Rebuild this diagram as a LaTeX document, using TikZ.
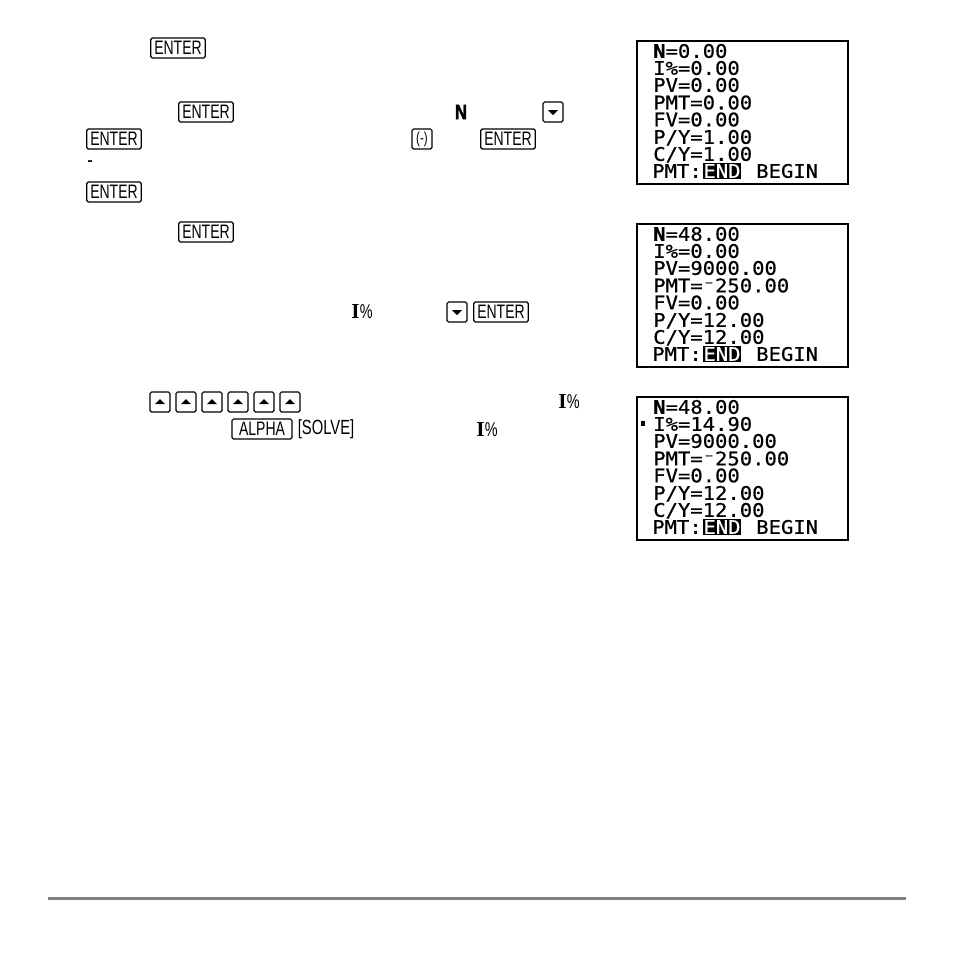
\documentclass[tikz,border=0pt]{standalone}
\usepackage{fontspec}
\newfontfamily\keyfont[FakeStretch=0.72]{Liberation Sans}
\newfontfamily\heavyfont[FakeStretch=0.8,FakeBold=2]{Liberation Sans}
\newfontfamily\labelfont{Liberation Serif}
\newfontfamily\screenfont[FakeStretch=1.1,FakeBold=0.6]{DejaVu Sans Mono}
\tikzset{
 keybox/.style={draw,line width=0.9pt,rounded corners=1.2pt,inner sep=0pt,minimum height=15pt,font=\keyfont\fontsize{14.6}{15}\selectfont},
 enterkey/.style={keybox,minimum width=41pt},
 arrowkey/.style={keybox,minimum width=15pt},
 screenbox/.style={draw,line width=1.5pt,minimum width=158.5pt,minimum height=107.5pt,inner sep=0pt,anchor=north west},
 row/.style={anchor=west,inner sep=0pt,text height=10.2pt,text depth=0pt,font=\screenfont\fontsize{14}{15}\selectfont},
 endbar/.style={row,fill=black,text=white,minimum width=27pt,minimum height=12pt,anchor=center},
 labeltext/.style={inner sep=0pt,font=\labelfont\bfseries\fontsize{16}{17}\selectfont}
}
\newcommand{\pct}{I{\keyfont\mdseries\fontsize{15}{16}\selectfont\%}}
\begin{document}
\begin{tikzpicture}[x=0.75pt,y=-0.75pt]
 \useasboundingbox (0,0) rectangle (954,954);
 % keys, first step
 \node[enterkey] (ent1) at (178,48) {ENTER};
 \node[enterkey] (ent2) at (206,112) {ENTER};
 \node[inner sep=0pt,font=\heavyfont\bfseries\fontsize{15.5}{16}\selectfont] (nlab) at (461,112) {N};
 \node[arrowkey] (dn1) at (553,112) {};
 \fill (548,110)--(558,110)--(553,115)--cycle;
 \node[enterkey] (ent3) at (114,139) {ENTER};
 \node[arrowkey,font=\keyfont\fontsize{12}{13}\selectfont] (neg) at (422,139) {(-)};
 \node[enterkey] (ent4) at (508,139) {ENTER};
 \node[inner sep=0pt,font=\heavyfont\fontsize{13.5}{14}\selectfont] (dash) at (90,163) {-};
 \node[enterkey] (ent5) at (114,192) {ENTER};
 % keys, second step
 \node[enterkey] (ent6) at (206,232) {ENTER};
 \node[labeltext] (pct1) at (362,312) {\pct};
 \node[arrowkey] (dn2) at (457,312) {};
 \fill (452,310)--(462,310)--(457,315)--cycle;
 \node[enterkey] (ent7) at (501,312) {ENTER};
 % keys, third step
 \node[arrowkey] (up1) at (160,402) {};
 \node[arrowkey] (up2) at (186,402) {};
 \node[arrowkey] (up3) at (212,402) {};
 \node[arrowkey] (up4) at (238,402) {};
 \node[arrowkey] (up5) at (264,402) {};
 \node[arrowkey] (up6) at (290,402) {};
 \fill (155,404)--(165,404)--(160,399)--cycle;
 \fill (181,404)--(191,404)--(186,399)--cycle;
 \fill (207,404)--(217,404)--(212,399)--cycle;
 \fill (233,404)--(243,404)--(238,399)--cycle;
 \fill (259,404)--(269,404)--(264,399)--cycle;
 \fill (285,404)--(295,404)--(290,399)--cycle;
 \node[labeltext] (pct2) at (569,402) {\pct};
 \node[keybox,minimum width=45pt] (alpha) at (262,429) {ALPHA};
 \node[inner sep=0pt,font=\keyfont\fontsize{15.4}{16}\selectfont] (solve) at (326,429) {[SOLVE]};
 \node[labeltext] (pct3) at (487,430) {\pct};
 % first screen
 \node[screenbox] (scra) at (635.5,39.5) {};
 \node[row] (a1) at (653,51) {\textbf{N}=0.00};
 \node[row] (a2) at (653,68) {I\%=0.00};
 \node[row] (a3) at (653,85) {PV=0.00};
 \node[row] (a4) at (653,102.5) {PMT=0.00};
 \node[row] (a5) at (653,119.5) {FV=0.00};
 \node[row] (a6) at (653,137) {P/Y=1.00};
 \node[row] (a7) at (653,154) {C/Y=1.00};
 \node[row] (a8) at (652,171) {PMT:};
 \node[endbar] (a9) at (722,171) {END};
 \node[row] (a10) at (756,171) {BEGIN};
 % second screen
 \node[screenbox] (scrb) at (635.5,222.5) {};
 \node[row] (b1) at (653,234) {\textbf{N}=48.00};
 \node[row] (b2) at (653,251) {I\%=0.00};
 \node[row] (b3) at (653,268) {PV=9000.00};
 \node[row] (b4) at (653,285.5) {PMT=⁻250.00};
 \node[row] (b5) at (653,302.5) {FV=0.00};
 \node[row] (b6) at (653,320) {P/Y=12.00};
 \node[row] (b7) at (653,337) {C/Y=12.00};
 \node[row] (b8) at (652,354) {PMT:};
 \node[endbar] (b9) at (722,354) {END};
 \node[row] (b10) at (756,354) {BEGIN};
 % third screen
 \node[screenbox] (scrc) at (635.5,395.5) {};
 \node[row] (c1) at (653,407) {\textbf{N}=48.00};
 \node[row] (c2) at (653,424) {I\%=14.90};
 \node[row] (c3) at (653,441) {PV=9000.00};
 \node[row] (c4) at (653,458.5) {PMT=⁻250.00};
 \node[row] (c5) at (653,475.5) {FV=0.00};
 \node[row] (c6) at (653,493) {P/Y=12.00};
 \node[row] (c7) at (653,510) {C/Y=12.00};
 \node[row] (c8) at (652,527) {PMT:};
 \node[endbar] (c9) at (722,527) {END};
 \node[row] (c10) at (756,527) {BEGIN};
 \fill (641,421) rectangle (645,426);
 % rule at the foot of the page
 \fill[gray] (48,896.5) rectangle (906,899.5);
\end{tikzpicture}
\end{document}
